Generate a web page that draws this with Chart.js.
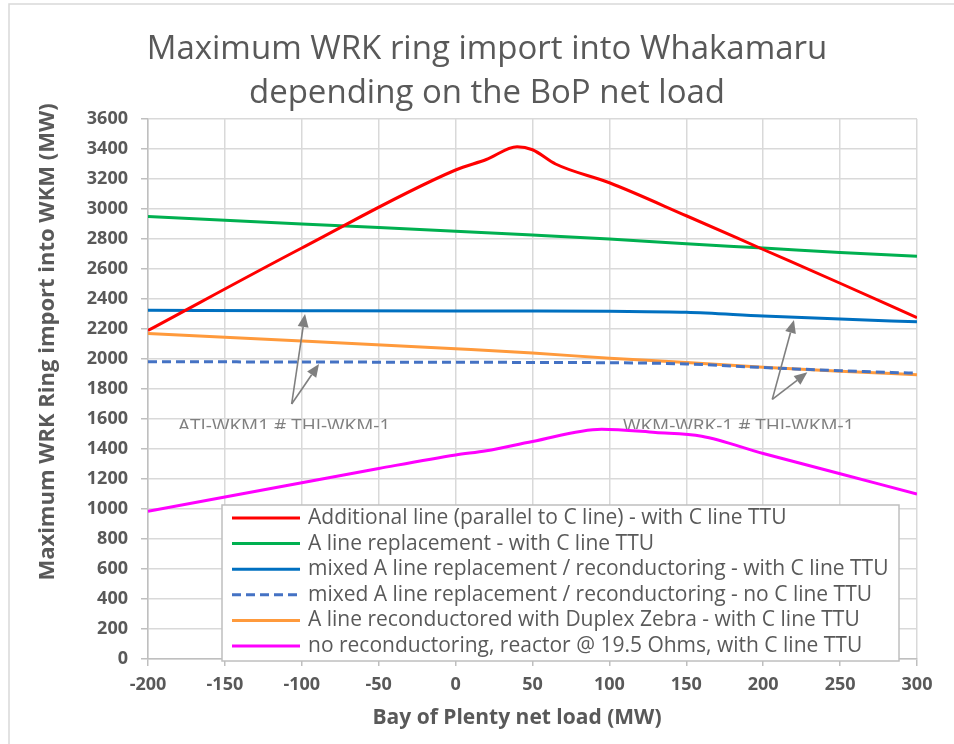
<!DOCTYPE html>
<html>
<head>
<meta charset="utf-8">
<script src="https://cdn.jsdelivr.net/npm/chart.js@4.4.1/dist/chart.umd.min.js"></script>
<style>
  html, body { margin: 0; padding: 0; background: #fff; }
</style>
</head>
<body>
<canvas id="importChart" width="954" height="744"></canvas>
<script>
// BoP net load (MW) and max WRK ring import (MW) for each option
const xAddLine = [-200, -100, 0, 20, 40, 50, 65, 100, 150, 200, 250, 300];
const yAddLine = [2190, 2740, 3260, 3330, 3415, 3395, 3300, 3175, 2955, 2730, 2505, 2275];

const xALineRepl = [-200, -100, 0, 50, 100, 150, 200, 250, 300];
const yALineRepl = [2950, 2900, 2852, 2827, 2800, 2768, 2740, 2710, 2685];

const xMixedTtu = [-200, -100, 0, 50, 100, 150, 200, 250, 300];
const yMixedTtu = [2325, 2322, 2320, 2320, 2318, 2312, 2287, 2266, 2248];

const xMixedNoTtu = [-200, -100, 0, 100, 150, 200, 250, 300];
const yMixedNoTtu = [1982, 1980, 1978, 1975, 1967, 1943, 1922, 1905];

const xZebra = [-200, -100, 0, 50, 100, 150, 200, 250, 300];
const yZebra = [2170, 2120, 2068, 2040, 2005, 1977, 1945, 1918, 1895];

const xReactor = [-200, -150, -100, -50, 0, 20, 50, 95, 130, 160, 200, 250, 300];
const yReactor = [985, 1080, 1175, 1270, 1360, 1388, 1450, 1532, 1510, 1485, 1370, 1235, 1100];

const seriesLabels = [
  'Additional line (parallel to C line) - with C line TTU',
  'A line replacement - with C line TTU',
  'mixed A line replacement / reconductoring - with C line TTU',
  'mixed A line replacement / reconductoring - no C line TTU',
  'A line reconductored with Duplex Zebra - with C line TTU',
  'no reconductoring, reactor @ 19.5 Ohms, with C line TTU'
];

const titleLines = ['Maximum WRK ring import into Whakamaru', 'depending on the BoP net load'];
const xTitle = 'Bay of Plenty net load (MW)';
const yTitle = 'Maximum WRK Ring import into WKM (MW)';

// contingency notes with their arrows (data units)
const notes = [
  { text: 'ATI-WKM1 # THI-WKM-1', x: -180.5, from: [-106.6, 1700], tips: [[-97.9, 2300], [-88.8, 1967]] },
  { text: 'WKM-WRK-1 # THI-WKM-1', x: 108.8, from: [205.9, 1731], tips: [[220, 2260], [228.7, 1911]] }
];

const TEXT = '#595959';

function pts(xs, ys) {
  return xs.map((v, i) => ({ x: v, y: ys[i] }));
}

function line(label, xs, ys, color, dash) {
  return {
    label: label,
    data: pts(xs, ys),
    borderColor: color,
    backgroundColor: color,
    borderWidth: 3,
    borderDash: dash || [],
    pointRadius: 0,
    cubicInterpolationMode: 'monotone',
    fill: false
  };
}

function arrow(ctx, x0, y0, x1, y1) {
  const ang = Math.atan2(y1 - y0, x1 - x0);
  const len = 13, half = 5.5;
  const bx = x1 - len * Math.cos(ang), by = y1 - len * Math.sin(ang);
  ctx.beginPath();
  ctx.moveTo(x0, y0);
  ctx.lineTo(bx, by);
  ctx.stroke();
  ctx.beginPath();
  ctx.moveTo(x1, y1);
  ctx.lineTo(bx + half * Math.sin(ang), by - half * Math.cos(ang));
  ctx.lineTo(bx - half * Math.sin(ang), by + half * Math.cos(ang));
  ctx.closePath();
  ctx.fill();
}

// title, axis titles, notes, legend box and the outer frame
const decor = {
  id: 'decor',
  beforeDraw(chart) {
    const ctx = chart.ctx;
    ctx.save();
    ctx.fillStyle = '#fff';
    ctx.fillRect(0, 0, chart.width, chart.height);
    ctx.strokeStyle = '#d9d9d9';
    ctx.lineWidth = 1.5;
    ctx.beginPath();
    ctx.moveTo(9, chart.height);
    ctx.lineTo(9, 4);
    ctx.lineTo(chart.width, 4);
    ctx.stroke();
    ctx.restore();
  },
  afterDraw(chart) {
    const ctx = chart.ctx;
    const xs = chart.scales.x, ys = chart.scales.y;
    const area = chart.chartArea;

    ctx.save();
    ctx.fillStyle = TEXT;
    ctx.textAlign = 'center';
    ctx.textBaseline = 'middle';
    ctx.font = '33px "Open Sans"';
    titleLines.forEach((t, i) => ctx.fillText(t, 487, 50 + i * 44));

    ctx.font = 'bold 21px "Open Sans"';
    ctx.fillText(xTitle, 517, 718);

    ctx.translate(48, 342);
    ctx.rotate(-Math.PI / 2);
    ctx.font = 'bold 22px "Open Sans"';
    ctx.fillText(yTitle, 0, 0);
    ctx.restore();

    // notes
    ctx.save();
    ctx.strokeStyle = '#7f7f7f';
    ctx.fillStyle = '#7f7f7f';
    ctx.lineWidth = 1.6;
    notes.forEach(n => {
      const fx = xs.getPixelForValue(n.from[0]), fy = ys.getPixelForValue(n.from[1]);
      n.tips.forEach(t => arrow(ctx, fx, fy, xs.getPixelForValue(t[0]), ys.getPixelForValue(t[1])));
    });
    ctx.restore();

    ctx.save();
    ctx.beginPath();
    ctx.rect(area.left, area.top, area.right - area.left, ys.getPixelForValue(1533) - area.top);
    ctx.clip();
    ctx.fillStyle = '#7f7f7f';
    ctx.font = '19px "Open Sans"';
    ctx.textAlign = 'left';
    ctx.textBaseline = 'alphabetic';
    notes.forEach(n => ctx.fillText(n.text, xs.getPixelForValue(n.x), ys.getPixelForValue(1513)));
    ctx.restore();

    // legend
    const bx = 222, by = 505, bw = 677, bh = 156, row = 25.6;
    ctx.save();
    ctx.fillStyle = '#fff';
    ctx.fillRect(bx, by, bw, bh);
    ctx.strokeStyle = '#bfbfbf';
    ctx.lineWidth = 1.5;
    ctx.strokeRect(bx, by, bw, bh);
    ctx.font = '21px "Open Sans"';
    ctx.textBaseline = 'middle';
    ctx.textAlign = 'left';
    chart.data.datasets.forEach((ds, i) => {
      const cy = by + 13 + i * row;
      ctx.strokeStyle = ds.borderColor;
      ctx.lineWidth = 3;
      ctx.setLineDash(ds.borderDash);
      ctx.beginPath();
      ctx.moveTo(bx + 10, cy);
      ctx.lineTo(bx + 78, cy);
      ctx.stroke();
      ctx.setLineDash([]);
      ctx.fillStyle = TEXT;
      ctx.fillText(ds.label, bx + 86, cy);
    });
    ctx.restore();
  }
};

Chart.defaults.font.family = '"Open Sans"';
Chart.defaults.color = TEXT;

new Chart(document.getElementById('importChart'), {
  type: 'line',
  data: {
    datasets: [
      line(seriesLabels[0], xAddLine, yAddLine, '#ff0000'),
      line(seriesLabels[1], xALineRepl, yALineRepl, '#00b050'),
      line(seriesLabels[2], xMixedTtu, yMixedTtu, '#0070c0'),
      line(seriesLabels[3], xMixedNoTtu, yMixedNoTtu, '#4472c4', [9, 5]),
      line(seriesLabels[4], xZebra, yZebra, '#ff9a3c'),
      line(seriesLabels[5], xReactor, yReactor, '#ff00ff')
    ]
  },
  options: {
    responsive: false,
    animation: false,
    layout: {
      padding: { top: 119, left: 9, right: 37, bottom: 0 }
    },
    scales: {
      x: {
        type: 'linear',
        min: -200,
        max: 300,
        afterFit: (s) => { s.height = 85; },
        ticks: {
          stepSize: 50,
          padding: 8,
          font: { size: 18, weight: 'bold' },
          color: TEXT
        },
        grid: {
          color: '#d9d9d9',
          lineWidth: 1.5,
          tickColor: '#bfbfbf',
          tickLength: 7
        },
        border: { color: '#bfbfbf', width: 1.5 }
      },
      y: {
        min: 0,
        max: 3600,
        afterFit: (s) => { s.width = 139; },
        ticks: {
          stepSize: 100,
          padding: 13,
          font: { size: 18, weight: 'bold' },
          color: TEXT,
          callback: (v) => (v % 200 === 0 ? v : '')
        },
        grid: {
          color: (c) => (c.tick && c.tick.value % 200 === 0 ? '#d9d9d9' : '#efefef'),
          lineWidth: 1.5,
          tickColor: (c) => (c.tick && c.tick.value % 200 === 0 ? '#bfbfbf' : 'rgba(0,0,0,0)'),
          tickLength: 7
        },
        border: { color: '#bfbfbf', width: 1.5 }
      }
    },
    plugins: {
      legend: { display: false },
      title: { display: false },
      tooltip: { enabled: false }
    }
  },
  plugins: [decor]
});
</script>
</body>
</html>
